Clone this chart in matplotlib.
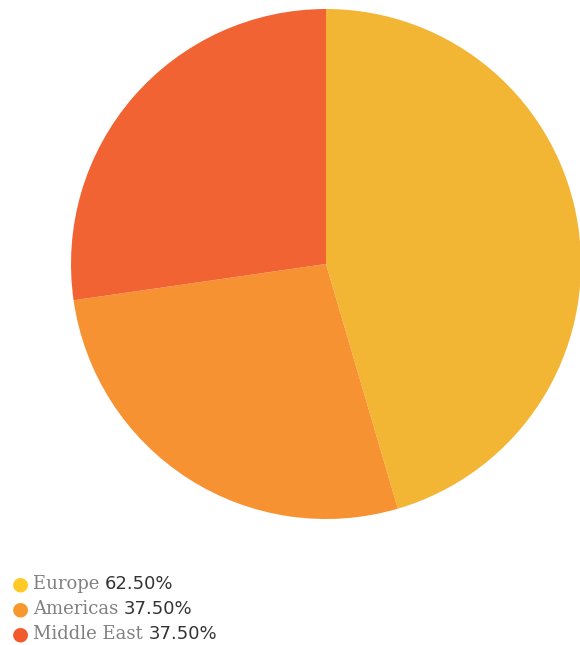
import matplotlib
matplotlib.use('Agg')
import matplotlib.pyplot as plt

regions = ['Europe', 'Americas', 'Middle East']
shares = [62.5, 37.5, 37.5]
pie_colors = ['#F3B634', '#F69232', '#F26334']
dot_colors = ['#FFC926', '#F7982F', '#F25A2B']

fig = plt.figure(figsize=(5.8, 6.45), dpi=100)
ax = fig.add_axes([71 / 580, 1 - 519 / 645, 510 / 580, 510 / 645])
ax.pie(shares, colors=pie_colors, startangle=90, counterclock=False,
       radius=1, wedgeprops=dict(linewidth=0))
ax.set_xlim(-1, 1)
ax.set_ylim(-1, 1)
ax.set_aspect('equal')
ax.axis('off')

# legend drawn by hand: dot, gray serif label, dark value
renderer = fig.canvas.get_renderer()
for i, (name, val) in enumerate(zip(regions, shares)):
    y = 1 - (584 + 25 * i) / 645
    fig.text(20 / 580, y, '\u25CF', color=dot_colors[i], fontsize=14,
             ha='center', va='center')
    t = fig.text(33 / 580, y, name + ' ', color='#808080', fontsize=13,
                 family='DejaVu Serif', ha='left', va='center')
    bb = t.get_window_extent(renderer)
    fig.text(bb.x1 / 580, y, f'{val:.2f}%', color='#333333', fontsize=13,
             ha='left', va='center')

fig.savefig('out.png', dpi=100)
